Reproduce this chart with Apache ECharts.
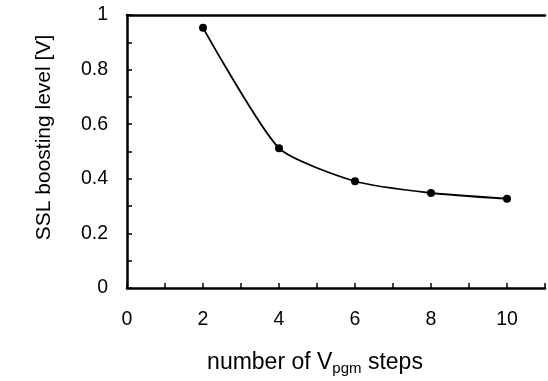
<!DOCTYPE html>
<html>
<head>
<meta charset="utf-8">
<script src="https://cdn.jsdelivr.net/npm/echarts@6/dist/echarts.min.js"></script>
<style>
  html, body { margin: 0; padding: 0; background: #fff; }
  #chart { width: 548px; height: 381px; }
</style>
</head>
<body>
<div id="chart"></div>
<script>
// number of Vpgm steps vs SSL boosting level
var steps = [2, 4, 6, 8, 10];
var boostLevel = [0.953, 0.512, 0.391, 0.348, 0.327];
var xTicks = [0, 2, 4, 6, 8, 10];

var chart = echarts.init(document.getElementById('chart'));
var font = 'Liberation Sans, Arial, sans-serif';

var option = {
    animation: false,
    backgroundColor: '#fff',
    grid: { left: 127, top: 15, width: 423.5, height: 278 },
    xAxis: [{
        type: 'value',
        min: 0, max: 11, interval: 2,
        name: '{a|number of V}{sub|pgm}{a| steps}',
        nameLocation: 'middle',
        nameGap: 61,
        nameTextStyle: {
            padding: [0, 42, 0, 0],
            rich: {
                a: { fontFamily: font, fontSize: 23, color: '#000' },
                sub: { fontFamily: font, fontSize: 15, color: '#000', padding: [12, 0, 0, 0] }
            }
        },
        axisLine: { lineStyle: { color: '#000', width: 2.5 } },
        axisTick: { inside: true, length: 5, lineStyle: { color: '#000', width: 1.5 } },
        minorTick: { show: true, splitNumber: 2, length: 5, lineStyle: { color: '#000', width: 1.5 } },
        splitLine: { show: false },
        axisLabel: {
            margin: 22, fontSize: 19.5, fontFamily: font, color: '#000',
            formatter: function (v) { return xTicks.indexOf(v) >= 0 ? String(v) : ''; }
        }
    }, {
        type: 'value', position: 'top', min: 0, max: 11,
        axisLine: { onZero: false, lineStyle: { color: '#000', width: 2.5 } },
        axisTick: { show: false }, axisLabel: { show: false }, splitLine: { show: false }
    }],
    yAxis: {
        type: 'value',
        min: 0, max: 1, interval: 0.2,
        name: 'SSL boosting level [V]',
        nameLocation: 'middle',
        nameGap: 72,
        nameTextStyle: { fontFamily: font, fontSize: 21, color: '#000', padding: [0, 0, 0, 28] },
        axisLine: { show: true, lineStyle: { color: '#000', width: 2.5 } },
        axisTick: { inside: true, length: 5, lineStyle: { color: '#000', width: 1.5 } },
        minorTick: { show: true, splitNumber: 2, length: 5, lineStyle: { color: '#000', width: 1.5 } },
        splitLine: { show: false },
        axisLabel: {
            margin: 19, fontSize: 19.5, fontFamily: font, color: '#000',
            formatter: function (v) { return String(+v.toFixed(1)); }
        }
    },
    series: [{
        type: 'line',
        data: steps.map(function (s, i) { return [s, boostLevel[i]]; }),
        smooth: 0.2,
        symbol: 'circle',
        symbolSize: 8,
        itemStyle: { color: '#000' },
        lineStyle: { color: '#000', width: 1.8 }
    }]
};

chart.setOption(option);
</script>
</body>
</html>
